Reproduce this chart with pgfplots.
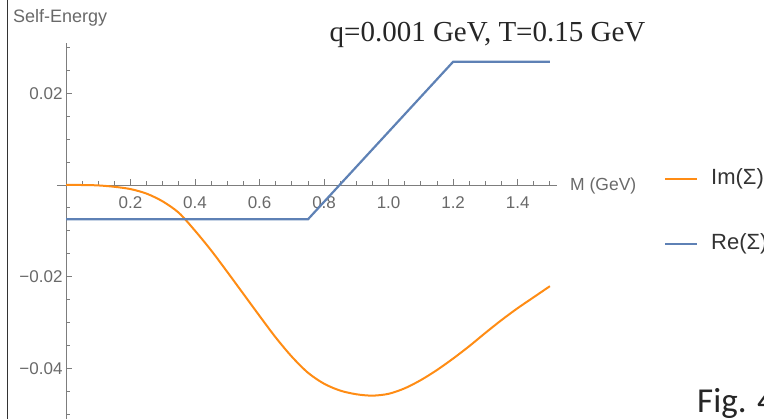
\documentclass[border=0pt]{standalone}
\usepackage{pgfplots}
\pgfplotsset{compat=1.18}
\usepackage{fontspec}
\setmainfont{Liberation Sans}
\newfontfamily\serifT{Liberation Serif}
\newfontfamily\carl{Carlito}
\definecolor{mblue}{RGB}{94,129,181}
\definecolor{morange}{RGB}{255,140,20}
\definecolor{lblgray}{RGB}{105,105,105}
\definecolor{axgray}{RGB}{125,125,125}
\begin{document}
\begin{tikzpicture}[x=1pt,y=1pt]
\path[use as bounding box] (0,0) rectangle (764,419);
\draw[line width=1.3pt, black!80] (7.5,0) -- (7.5,419);
\begin{axis}[
  at={(57pt,0pt)}, anchor=south west, scale only axis,
  width=500pt, height=376pt,
  xmin=-0.028, xmax=1.522, ymin=-0.0511, ymax=0.031,
  axis lines=middle, axis line style={-, axgray, line width=0.9pt},
  scaled x ticks=false, scaled y ticks=false,
  xtick={0.2,0.4,0.6,0.8,1.0,1.2,1.4},
  xticklabels={0.2,0.4,0.6,0.8,1.0,1.2,1.4},
  ytick={-0.04,-0.02,0.02},
  yticklabels={−0.04,−0.02,0.02},
  minor xtick={0.05,0.1,0.15,0.25,0.3,0.35,0.45,0.5,0.55,0.65,0.7,0.75,0.85,0.9,0.95,1.05,1.1,1.15,1.25,1.3,1.35,1.45,1.5},
  minor ytick={-0.05,-0.045,-0.035,-0.03,-0.025,-0.015,-0.01,-0.005,0.005,0.01,0.015,0.025,0.03},
  tick style={axgray, line width=0.9pt},
  major tick length=6pt, minor tick length=3.5pt,
  tick align=inside,
  ticklabel style={font=\fontsize{17}{17}\selectfont, text=lblgray},
  xticklabel style={yshift=-8pt},
  clip=false,
]
\addplot[color=morange, line width=2pt, smooth] coordinates {
(0,0) (0.05,-0.00001) (0.1,-0.0001) (0.15,-0.0004) (0.2,-0.0009) (0.25,-0.0019)
(0.3,-0.0036) (0.35,-0.0061) (0.4,-0.0100) (0.45,-0.0143) (0.5,-0.0190)
(0.55,-0.0238) (0.6,-0.0286) (0.65,-0.0333) (0.7,-0.0375) (0.75,-0.0410)
(0.8,-0.0434) (0.85,-0.0449) (0.9,-0.0457) (0.95,-0.0460) (1.0,-0.0456)
(1.05,-0.0444) (1.1,-0.0426) (1.15,-0.0404) (1.2,-0.0379) (1.25,-0.0352)
(1.3,-0.0323) (1.35,-0.0295) (1.4,-0.0269) (1.45,-0.0245) (1.5,-0.0221)
};
\addplot[color=mblue, line width=2.2pt] coordinates {
(0,-0.0075) (0.75,-0.0075) (1.2,0.0269) (1.5,0.0269)
};
\end{axis}
\node[anchor=west, inner sep=0, font=\fontsize{18}{18}\selectfont, text=lblgray] at (13,401) {Self-Energy};
\node[anchor=base, inner sep=0, font=\serifT\fontsize{29}{29}\selectfont, text=black!85] at (487.5,377) {q=0.001 GeV, T=0.15 GeV};
\node[anchor=west, inner sep=0, font=\fontsize{17.5}{17.5}\selectfont, text=lblgray] at (570,233) {M (GeV)};
\draw[morange, line width=1.8pt] (665,240) -- (697,240);
\draw[mblue, line width=1.8pt] (665,175) -- (697,175);
\node[anchor=west, inner sep=0, font=\fontsize{22}{22}\selectfont, text=black!80] at (711,240) {Im(Σ)};
\node[anchor=west, inner sep=0, font=\fontsize{22}{22}\selectfont, text=black!80] at (711,175) {Re(Σ)};
\node[anchor=base west, inner sep=0, font=\carl\fontsize{35}{35}\selectfont, text=black!85] at (697,6) {Fig. 4};
\end{tikzpicture}
\end{document}
